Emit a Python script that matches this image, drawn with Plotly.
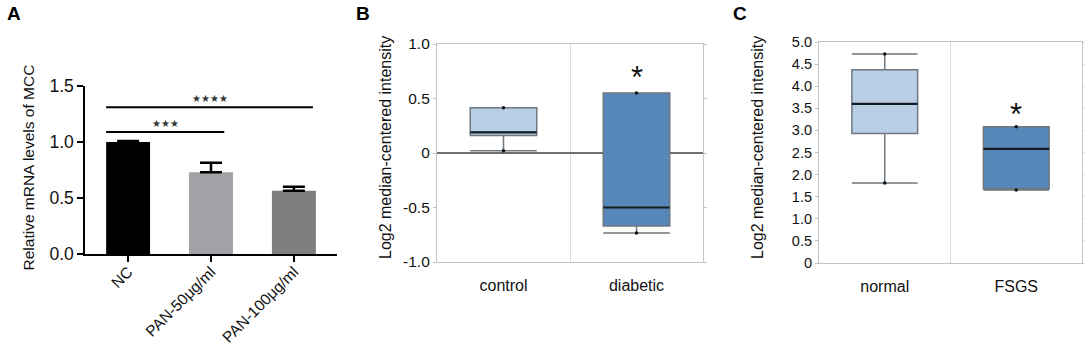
import plotly.graph_objects as go

# ---------------- Data ----------------
# Panel A (bar chart)
a_categories = ["NC", "PAN-50μg/ml", "PAN-100μg/ml"]
a_values = [1.0, 0.73, 0.565]
a_err_up = [0.01, 0.085, 0.035]
a_colors = ["#000000", "#a2a2a6", "#7e7e7e"]
a_ticks = [0.0, 0.5, 1.0, 1.5]
a_ticktext = ["0.0", "0.5", "1.0", "1.5"]
# significance comparisons: (from group, to group, height, label)
a_sig_from = [0, 0]
a_sig_to = [1, 2]
a_sig_height = [1.09, 1.31]
a_sig_label = ["★★★", "★★★★"]

# Panel B (box plot)
b_categories = ["control", "diabetic"]
b_q1 = [0.16, -0.67]
b_median = [0.19, -0.50]
b_q3 = [0.415, 0.55]
b_low = [0.02, -0.735]
b_high = [0.415, 0.55]
b_ticks = [-1.0, -0.5, 0.0, 0.5, 1.0]
b_ticktext = ["-1.0", "-0.5", "0", "0.5", "1.0"]
b_sig_cat = "diabetic"
b_sig_label = "*"

# Panel C (box plot)
c_categories = ["normal", "FSGS"]
c_q1 = [2.93, 1.68]
c_median = [3.60, 2.58]
c_q3 = [4.37, 3.08]
c_low = [1.81, 1.65]
c_high = [4.73, 3.08]
c_ticks = [0, 0.5, 1.0, 1.5, 2.0, 2.5, 3.0, 3.5, 4.0, 4.5, 5.0]
c_ticktext = ["0", "0.5", "1.0", "1.5", "2.0", "2.5", "3.0", "3.5", "4.0", "4.5", "5.0"]
c_sig_cat = "FSGS"
c_sig_label = "*"

# ---------------- Styles ----------------
box_fills = ["#b8cee4", "#5687b8"]
FONT = "Liberation Sans, Arial, sans-serif"
BAR_W = 0.53
SIG_OVERHANG = [0.16, 0.23]

fig = go.Figure()

# ---------------- Panel A ----------------
fig.add_trace(go.Bar(
    x=a_categories, y=a_values, width=BAR_W,
    marker=dict(color=a_colors, line=dict(width=0)),
    error_y=dict(type="data", symmetric=False, array=a_err_up,
                 arrayminus=[0] * len(a_values),
                 color="#000000", thickness=2.5, width=11),
    xaxis="x", yaxis="y", showlegend=False,
))

shapes = []
annotations = []
for f, t, h, lab, ov in zip(a_sig_from, a_sig_to, a_sig_height, a_sig_label, SIG_OVERHANG):
    x0 = f - BAR_W / 2
    x1 = t + ov
    shapes.append(dict(type="line", xref="x", yref="y", x0=x0, x1=x1, y0=h, y1=h,
                       line=dict(color="#000000", width=2)))
    annotations.append(dict(xref="x", yref="y", x=(x0 + x1) / 2, y=h + 0.01,
                            text=lab, showarrow=False, yanchor="bottom",
                            font=dict(size=10, color="#333333", family="DejaVu Sans")))

# ---------------- Panel B & C boxes ----------------
def add_boxes(cats, q1, med, q3, lo, hi, xa, ya):
    for i in range(len(cats)):
        fig.add_trace(go.Box(
            x=[cats[i]], q1=[q1[i]], median=[med[i]], q3=[q3[i]],
            lowerfence=[lo[i]], upperfence=[hi[i]],
            width=0.5, whiskerwidth=1, fillcolor=box_fills[i],
            line=dict(color="#6e7880", width=1.5),
            boxpoints=False, xaxis=xa, yaxis=ya, showlegend=False,
            hoverinfo="skip",
        ))
    # thick dark median line
    fig.add_trace(go.Box(
        x=list(cats), q1=list(med), median=list(med), q3=list(med),
        lowerfence=list(med), upperfence=list(med),
        width=0.5, whiskerwidth=1, fillcolor="rgba(0,0,0,0)",
        line=dict(color="#141c24", width=2.2),
        boxpoints=False, xaxis=xa, yaxis=ya, showlegend=False, hoverinfo="skip",
    ))
    fig.add_trace(go.Scatter(
        x=list(cats) + list(cats), y=list(lo) + list(hi), mode="markers",
        marker=dict(color="#111111", size=3.5), xaxis=xa, yaxis=ya,
        showlegend=False, hoverinfo="skip",
    ))

add_boxes(b_categories, b_q1, b_median, b_q3, b_low, b_high, "x2", "y2")
add_boxes(c_categories, c_q1, c_median, c_q3, c_low, c_high, "x3", "y3")

bi = b_categories.index(b_sig_cat)
annotations.append(dict(xref="x2", yref="y2", x=b_sig_cat, y=b_high[bi] - 0.04,
                        text=b_sig_label, showarrow=False, yanchor="bottom",
                        font=dict(size=31, color="#111111", family=FONT)))
ci = c_categories.index(c_sig_cat)
annotations.append(dict(xref="x3", yref="y3", x=c_sig_cat, y=c_high[ci] - 0.17,
                        text=c_sig_label, showarrow=False, yanchor="bottom",
                        font=dict(size=31, color="#111111", family=FONT)))

# axis titles & panel letters
annotations += [
    dict(xref="paper", yref="paper", x=28 / 1084, y=1 - 167.5 / 346,
         xanchor="center", yanchor="middle",
         text="Relative mRNA levels of MCC", textangle=-90, showarrow=False,
         font=dict(size=15.5, color="#111111", family=FONT)),
    dict(xref="paper", yref="paper", x=385 / 1084, y=1 - 148 / 346,
         xanchor="center", yanchor="middle",
         text="Log2 median-centered intensity", textangle=-90, showarrow=False,
         font=dict(size=16, color="#111111", family=FONT)),
    dict(xref="paper", yref="paper", x=757 / 1084, y=1 - 148 / 346,
         xanchor="center", yanchor="middle",
         text="Log2 median-centered intensity", textangle=-90, showarrow=False,
         font=dict(size=16, color="#111111", family=FONT)),
]
for lab, px in [("A", 5), ("B", 354), ("C", 731)]:
    annotations.append(dict(xref="paper", yref="paper", x=px / 1084, y=1 - 1 / 346,
                            xanchor="left", yanchor="top", text="<b>%s</b>" % lab,
                            showarrow=False,
                            font=dict(size=19, color="#000000", family=FONT)))

GRAY = "#c4c4c4"
fig.update_layout(
    width=1084, height=346,
    margin=dict(l=0, r=0, t=0, b=0, pad=0, autoexpand=False),
    paper_bgcolor="white", plot_bgcolor="white", boxmode="overlay",
    font=dict(family=FONT, color="#111111"),
    shapes=shapes, annotations=annotations,
    xaxis=dict(domain=[85 / 1084, 337 / 1084], anchor="y", type="category",
               range=[-0.52, 2.52], showline=True, linecolor="#000000", linewidth=1.5,
               ticks="outside", ticklen=6, tickwidth=1.5, tickcolor="#000000",
               tickangle=-45, tickfont=dict(size=15.5), showgrid=False,
               ticklabelstandoff=-5, automargin=False),
    yaxis=dict(domain=[1 - 254 / 346, 1 - 86 / 346], anchor="x", range=[0, 1.5],
               tickvals=a_ticks, ticktext=a_ticktext, showline=True,
               linecolor="#000000", linewidth=1.5, ticks="outside", ticklen=6,
               tickwidth=1.5, tickcolor="#000000", tickfont=dict(size=17.5),
               showgrid=False, zeroline=False, automargin=False),
    xaxis2=dict(domain=[437 / 1084, 703 / 1084], anchor="y2", type="category",
                range=[-0.5, 1.5], tickson="boundaries", ticks="", showgrid=True,
                gridcolor="#dcdcdc", gridwidth=1, showline=True, mirror=True,
                linecolor=GRAY, linewidth=1.2, tickfont=dict(size=16),
                ticklabelstandoff=9, automargin=False),
    yaxis2=dict(domain=[1 - 262 / 346, 1 - 44 / 346], anchor="x2", range=[-1, 1],
                tickvals=b_ticks, ticktext=b_ticktext, showgrid=False,
                zeroline=True, zerolinecolor="#707070", zerolinewidth=1.5,
                showline=True, mirror="allticks", linecolor=GRAY, linewidth=1.2,
                ticks="outside", ticklen=3, tickcolor=GRAY, tickfont=dict(size=15.5),
                automargin=False),
    xaxis3=dict(domain=[819 / 1084, 1082 / 1084], anchor="y3", type="category",
                range=[-0.5, 1.5], tickson="boundaries", ticks="", showgrid=True,
                gridcolor="#dcdcdc", gridwidth=1, showline=True, mirror=True,
                linecolor=GRAY, linewidth=1.2, tickfont=dict(size=16),
                ticklabelstandoff=9, automargin=False),
    yaxis3=dict(domain=[1 - 263 / 346, 1 - 42 / 346], anchor="x3", range=[0, 5],
                tickvals=c_ticks, ticktext=c_ticktext, showgrid=False,
                zeroline=True, zerolinecolor="#8a8a8a", zerolinewidth=1.5,
                showline=True, mirror="allticks", linecolor=GRAY, linewidth=1.2,
                ticks="outside", ticklen=3, tickcolor=GRAY, tickfont=dict(size=14.5),
                automargin=False),
)

fig.write_html(
    "out.html",
    config={"displayModeBar": False},
    post_script=("document.body.style.margin='0px';"
                 "document.body.style.overflow='hidden';"),
)
